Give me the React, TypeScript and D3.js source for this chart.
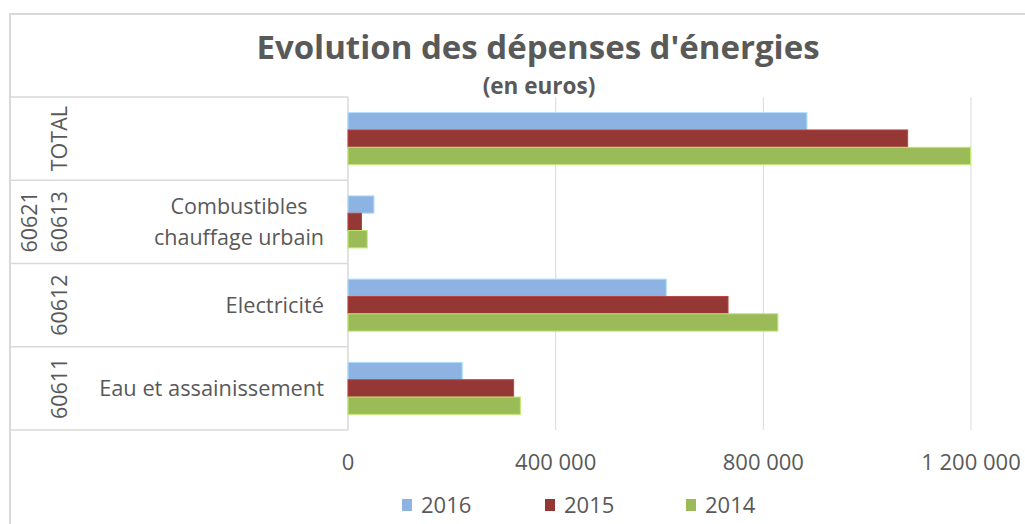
import React from "react";
import * as d3 from "d3";

const rowKeys = ["total", "comb", "elec", "eau"];
const codes = ["TOTAL", "60613", "60612", "60611"];
const outerCodes = ["", "60621", "", ""];
const labelLines = [[], ["Combustibles", "chauffage urbain"], ["Electricité"], ["Eau et assainissement"]];
const seriesNames = ["2016", "2015", "2014"];
const values2016 = [884000, 50000, 613000, 220000];
const values2015 = [1078000, 26000, 732000, 319000];
const values2014 = [1199000, 37000, 828000, 332000];
const tickValues = [0, 400000, 800000, 1200000];
const colors = ["#8DB3E2", "#953735", "#9BBB59"];

const W = 1025;
const H = 524;
const TXT = "#595959";
const GRID = "#d9d9d9";
const FONT = "'Open Sans', sans-serif";

export default function App() {
  const seriesValues = [values2016, values2015, values2014];
  const x = d3.scaleLinear().domain([0, 1200000]).range([348, 971]);
  const y = d3.scaleBand<string>().domain(rowKeys).range([97, 430]).paddingInner(0).paddingOuter(0);
  const groupH = 52;
  const y1 = d3.scaleBand<string>().domain(seriesNames).range([0, groupH]);
  const off = (y.bandwidth() - groupH) / 2;
  const fmt = (v: number) => d3.format(",")(v).replace(/,/g, " ");
  const boundaries = [...rowKeys.map((k) => y(k) as number), y.range()[1]];

  return (
    <svg width={W} height={H} style={{ position: "absolute", left: 0, top: 0, background: "#fff" }} fontFamily={FONT}>
      <rect x={0} y={0} width={W} height={H} fill="#fff" />
      {/* chart frame */}
      <path d={`M10,${H} L10,14 L${W},14`} fill="none" stroke={GRID} strokeWidth={2} />
      {/* title */}
      <text x={538} y={59} textAnchor="middle" fontSize={33} fontWeight="bold" fill={TXT}>
        Evolution des dépenses d'énergies
      </text>
      <text x={539} y={94} textAnchor="middle" fontSize={22.5} fontWeight="bold" fill={TXT}>
        (en euros)
      </text>
      {/* gridlines */}
      {tickValues.slice(1).map((t) => (
        <line key={t} x1={x(t)} x2={x(t)} y1={97} y2={430} stroke={GRID} strokeWidth={1} />
      ))}
      {/* category table lines */}
      {boundaries.map((b, i) => (
        <line key={i} x1={10} x2={348} y1={b} y2={b} stroke={GRID} strokeWidth={1.5} />
      ))}
      <line x1={x(0)} x2={x(0)} y1={97} y2={430} stroke={GRID} strokeWidth={1.5} />
      {/* bars */}
      {seriesNames.map((s, si) =>
        rowKeys.map((k, ri) => {
          const v = seriesValues[si][ri];
          const y0 = (y(k) as number) + off + (y1(s) as number);
          return (
            <rect
              key={s + k}
              x={x(0)}
              y={y0}
              width={x(v) - x(0)}
              height={y1.bandwidth()}
              fill={colors[si]}
              stroke={d3.color(colors[si])!.brighter(0.6).formatHex()}
              strokeWidth={1}
            />
          );
        })
      )}
      {/* category labels */}
      {rowKeys.map((k, ri) => {
        const cy = (y(k) as number) + y.bandwidth() / 2;
        const lines = labelLines[ri];
        const lh = 31;
        const startBase = cy + 7.5 - ((lines.length - 1) * lh) / 2;
        return (
          <g key={k}>
            {lines.length > 1 ? (
              lines.map((l, li) => (
                <text key={li} x={239} y={startBase + li * lh} textAnchor="middle" fontSize={21.5} fill={TXT}>
                  {l}
                </text>
              ))
            ) : lines.length === 1 ? (
              <text x={324} y={startBase} textAnchor="end" fontSize={21.8} fill={TXT}>
                {lines[0]}
              </text>
            ) : null}
            <text transform={`translate(67,${cy}) rotate(-90)`} textAnchor="middle" fontSize={21.5} fill={TXT}>
              {codes[ri]}
            </text>
            {outerCodes[ri] ? (
              <text transform={`translate(37,${cy}) rotate(-90)`} textAnchor="middle" fontSize={21.5} fill={TXT}>
                {outerCodes[ri]}
              </text>
            ) : null}
          </g>
        );
      })}
      {/* x tick labels */}
      {tickValues.map((t) => (
        <text key={t} x={x(t)} y={470} textAnchor="middle" fontSize={22} fill={TXT}>
          {fmt(t)}
        </text>
      ))}
      {/* legend */}
      {seriesNames.map((s, i) => {
        const lx = [402, 545, 686][i];
        return (
          <g key={s}>
            <rect x={lx} y={499} width={10} height={12} fill={colors[i]} />
            <text x={lx + 19} y={513} fontSize={22} fill={TXT}>
              {s}
            </text>
          </g>
        );
      })}
    </svg>
  );
}
